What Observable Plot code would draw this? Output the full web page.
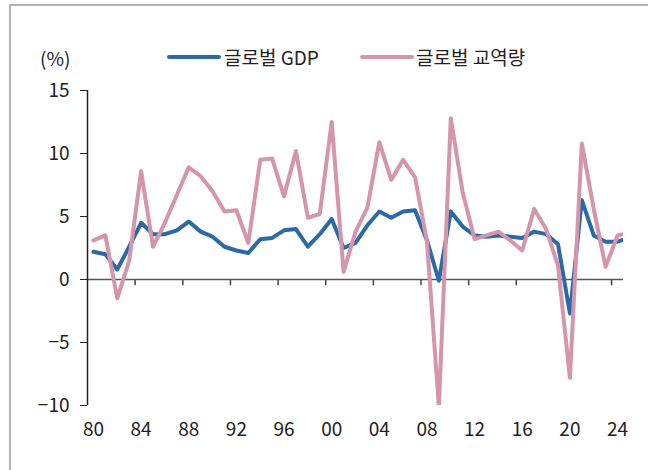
<!DOCTYPE html>
<html>
<head>
<meta charset="utf-8">
<script src="https://cdn.jsdelivr.net/npm/d3@7"></script>
<script src="https://cdn.jsdelivr.net/npm/@observablehq/plot@0.6"></script>
<style>
  body { margin: 0; background: #fff; }
  #wrap { position: relative; width: 648px; height: 470px; overflow: hidden;
          font-family: "Noto Sans CJK KR", "Noto Sans", sans-serif; color: #222; }
  #frame { position: absolute; left: 9px; top: 4px; right: -5px; bottom: -5px;
           border-left: 2px solid #b3b3b3; border-top: 2px solid #b3b3b3; }
  #chart { position: absolute; left: 0; top: 0; }
  .lab { position: absolute; font-size: 19px; line-height: 1; white-space: nowrap; }
  .sw { position: absolute; height: 4px; border-radius: 2px; }
</style>
</head>
<body>
<div id="wrap">
  <div id="frame"></div>
  <div id="chart"></div>
  <div class="lab" style="left:40px;top:48px;">(%)</div>
  <div class="sw" style="left:167px;top:55px;width:54px;background:#2b6aa5;"></div>
  <div class="lab" style="left:224px;top:47px;">글로벌 GDP</div>
  <div class="sw" style="left:360px;top:55px;width:54px;background:#d595ab;"></div>
  <div class="lab" style="left:416px;top:47px;">글로벌 교역량</div>
</div>
<script>
const years = d3.range(1980, 2026);
const gdp = [2.2, 2.0, 0.8, 2.6, 4.5, 3.6, 3.6, 3.9, 4.6, 3.8, 3.4, 2.6, 2.3, 2.1,
             3.2, 3.3, 3.9, 4.0, 2.6, 3.6, 4.8, 2.5, 2.9, 4.3, 5.4, 4.9, 5.4, 5.5,
             3.1, -0.1, 5.4, 4.2, 3.5, 3.4, 3.5, 3.4, 3.3, 3.8, 3.6, 2.8, -2.7, 6.3,
             3.5, 3.0, 3.0, 3.3];
const trade = [3.1, 3.5, -1.5, 1.5, 8.6, 2.6, 4.5, 6.7, 8.9, 8.2, 7.0, 5.4, 5.5, 2.9,
               9.5, 9.6, 6.6, 10.2, 4.9, 5.2, 12.5, 0.6, 3.8, 5.7, 10.9, 7.9, 9.5, 8.1,
               3.0, -10.1, 12.8, 6.9, 3.2, 3.5, 3.8, 3.1, 2.3, 5.6, 4.0, 1.1, -7.8, 10.8,
               5.6, 1.0, 3.5, 3.7];
const yTicks = [-10, -5, 0, 5, 10, 15];
const xLabels = d3.range(1980, 2025, 4);
const xTickMarks = d3.range(1983.5, 2024, 4);

const gdpData = years.map((y, i) => ({year: y, v: gdp[i]}));
const tradeData = years.map((y, i) => ({year: y, v: trade[i]}));

const chart = Plot.plot({
  width: 648,
  height: 470,
  marginLeft: 87,
  marginRight: 25,
  marginTop: 90,
  marginBottom: 65,
  style: { fontFamily: '"Noto Sans CJK KR", "Noto Sans", sans-serif', fontSize: "19px", color: "#222", background: "transparent" },
  x: { domain: [1979.5, 2024.5] },
  y: { domain: [-10, 15] },
  marks: [
    Plot.axisY({ ticks: yTicks, tickSize: 7, tickPadding: 11, label: null, stroke: "#222",
                 tickFormat: d => d < 0 ? "\u2212" + Math.abs(d) : String(d) }),
    Plot.axisX({ ticks: xLabels, tickSize: 0, tickPadding: 17, label: null,
                 tickFormat: d => String(d % 100).padStart(2, "0") }),
    Plot.ruleX(xTickMarks, { y1: 0, y2: -0.5, stroke: "#444", strokeWidth: 1.5 }),
    Plot.ruleY([0], { stroke: "#555", strokeWidth: 1.5 }),
    Plot.ruleX([1979.5], { y1: -10, y2: 15, stroke: "#222", strokeWidth: 1.5 }),
    Plot.line(gdpData, { x: "year", y: "v", stroke: "#2b6aa5", strokeWidth: 4, clip: true }),
    Plot.line(tradeData, { x: "year", y: "v", stroke: "#d595ab", strokeWidth: 4, clip: true })
  ]
});
document.getElementById("chart").appendChild(chart);
</script>
</body>
</html>
